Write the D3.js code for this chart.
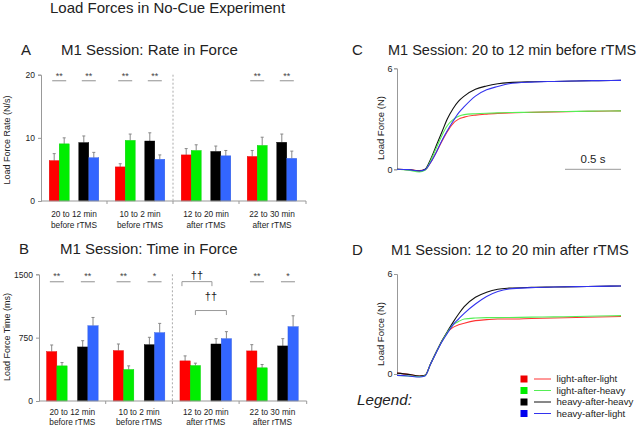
<!DOCTYPE html>
<html><head><meta charset="utf-8">
<script src="https://cdn.jsdelivr.net/npm/d3@7"></script>
<style>
body{margin:0;background:#fff}
svg{display:block;font-family:Arial,"Liberation Sans",sans-serif}
</style>
</head><body>
<svg id="chart" width="640" height="427"></svg>
<script>
// ---------- data ----------
const seriesNames = ["light-after-light","light-after-heavy","heavy-after-heavy","heavy-after-light"];
const barColors  = ["#ff0000","#00ee00","#000000","#3366ff"];
const lineColors = ["#ff3333","#55ee55","#111111","#3333ee"];
const legendColors = ["#ee0000","#00ee00","#000000","#0000ee"];

const groupLine1 = ["20 to 12 min","10 to 2 min","12 to 20 min","22 to 30 min"];
const groupLine2 = ["before rTMS","before rTMS","after rTMS","after rTMS"];

// Panel A: rate in force (N/s), mean and SE per group
const rateLL = [6.4, 5.4, 7.3, 7.05];
const rateLH = [9.05, 9.6, 8.0, 8.8];
const rateHH = [9.25, 9.5, 7.85, 9.3];
const rateHL = [6.85, 6.6, 7.15, 6.75];
const rateErrLL = [1.1, 0.5, 1.0, 0.95];
const rateErrLH = [0.95, 1.0, 0.9, 1.3];
const rateErrHH = [1.05, 1.3, 0.85, 1.3];
const rateErrHL = [0.85, 0.7, 0.85, 1.15];
const rateTicks = [0, 10, 20];
const sigRateLight = ["**","**","","**"];
const sigRateHeavy = ["**","**","","**"];

// Panel B: time in force (ms)
const timeLL = [585, 597, 475, 593];
const timeLH = [416, 373, 420, 393];
const timeHH = [640, 667, 675, 652];
const timeHL = [891, 809, 738, 880];
const timeErrLL = [78, 78, 59, 74];
const timeErrLH = [39, 43, 28, 39];
const timeErrHH = [74, 87, 63, 86];
const timeErrHL = [98, 110, 83, 129];
const timeTicks = [0, 750, 1500];
const sigTimeLight = ["**","**","","**"];
const sigTimeHeavy = ["**","*","","*"];

// Panels C/D: load force traces (N) vs time (s)
const traceTime = [0,0.1,0.2,0.25,0.3,0.35,0.4,0.45,0.5,0.55,0.6,0.7,0.8,0.9,1.0,1.2,1.4,1.6,1.8,2.0];
const cLL = [0,-0.02,-0.08,-0.03,0.4,1.0,1.65,2.25,2.72,2.98,3.1,3.22,3.28,3.32,3.35,3.38,3.41,3.43,3.45,3.47];
const cLH = [0,-0.05,-0.15,-0.06,0.5,1.25,2.0,2.6,2.95,3.15,3.25,3.3,3.33,3.35,3.37,3.39,3.42,3.44,3.46,3.47];
const cHH = [0,-0.02,-0.1,0.0,0.6,1.4,2.2,3.0,3.6,4.05,4.35,4.75,4.95,5.08,5.15,5.2,5.22,5.25,5.27,5.28];
const cHL = [0,-0.02,-0.1,-0.03,0.4,1.0,1.7,2.3,2.85,3.35,3.72,4.35,4.72,4.92,5.08,5.18,5.22,5.25,5.27,5.28];
const dLL = [0.05,-0.02,-0.12,-0.08,0.6,1.3,1.95,2.5,2.8,2.95,3.05,3.2,3.26,3.3,3.3,3.33,3.36,3.39,3.42,3.45];
const dLH = [-0.08,-0.12,-0.16,-0.1,0.6,1.3,1.95,2.5,2.95,3.15,3.3,3.36,3.38,3.38,3.39,3.41,3.43,3.45,3.48,3.5];
const dHH = [0.05,-0.02,-0.12,-0.08,0.62,1.32,1.98,2.55,3.1,3.6,4.04,4.6,4.9,5.08,5.15,5.2,5.22,5.24,5.26,5.28];
const dHL = [-0.08,-0.12,-0.18,-0.12,0.6,1.28,1.92,2.45,2.95,3.3,3.64,4.2,4.65,4.95,5.1,5.18,5.22,5.24,5.26,5.28];
const forceTicks = [0, 6];
const scaleBarSeconds = [1.5, 2.0];

// ---------- drawing ----------
const svg = d3.select("#chart");
const gray = "#999";
const txt = "#222";

svg.append("text").attr("x",50).attr("y",12.5).attr("font-size",15).attr("fill",txt)
  .text("Load Forces in No-Cue Experiment");

function panelTitle(letter, title, x0, x1, y, fs){
  svg.append("text").attr("x",x0).attr("y",y).attr("font-size",15).attr("fill",txt).text(letter);
  svg.append("text").attr("x",x1).attr("y",y).attr("font-size",fs||15).attr("fill",txt).text(title);
}
panelTitle("A","M1 Session: Rate in Force",21,61,55);
panelTitle("B","M1 Session: Time in Force",19,60,254);
panelTitle("C","M1 Session: 20 to 12 min before rTMS",352,388,55,14.5);
panelTitle("D","M1 Session: 12 to 20 min after rTMS",352,391,255,14.6);

function barPanel(cfg){
  const g = svg.append("g");
  const xg = d3.scaleBand().domain(d3.range(4)).range(cfg.xRange).paddingInner(0).paddingOuter(0);
  const step = xg.step();
  const margin = (step - 4*cfg.barW - cfg.gap)/2;
  const xs = d3.scaleBand().domain(d3.range(4)).range([0, 4*cfg.barW]);
  const xBar = (gi, si) => xg(gi) + margin + xs(si) + (si >= 2 ? cfg.gap : 0);
  const y = d3.scaleLinear().domain(cfg.yDomain).range(cfg.yRange);

  const vals = cfg.values, errs = cfg.errors;
  const rows = [];
  vals.forEach((arr, si) => arr.forEach((v, gi) => rows.push({si, gi, v, e: errs[si][gi]})));

  g.selectAll("line.err").data(rows).join("line")
    .attr("x1", d => xBar(d.gi,d.si) + cfg.barW/2).attr("x2", d => xBar(d.gi,d.si) + cfg.barW/2)
    .attr("y1", d => y(d.v)).attr("y2", d => y(d.v + d.e))
    .attr("stroke","#888").attr("stroke-width",1);
  g.selectAll("line.cap").data(rows).join("line")
    .attr("x1", d => xBar(d.gi,d.si) + cfg.barW/2 - 1.5).attr("x2", d => xBar(d.gi,d.si) + cfg.barW/2 + 1.5)
    .attr("y1", d => y(d.v + d.e)).attr("y2", d => y(d.v + d.e))
    .attr("stroke","#888").attr("stroke-width",1);
  g.selectAll("rect").data(rows).join("rect")
    .attr("x", d => xBar(d.gi,d.si)).attr("width", cfg.barW)
    .attr("y", d => y(d.v)).attr("height", d => y(0) - y(d.v))
    .attr("fill", d => barColors[d.si])
    .attr("stroke", d => d3.color(barColors[d.si]).darker(0.4)).attr("stroke-width",0.4);

  const ya = g.append("g").attr("transform",`translate(${cfg.xRange[0]},0)`)
    .call(d3.axisLeft(y).tickValues(cfg.ticks).tickSize(3).tickPadding(3).tickFormat(d3.format("d")));
  ya.select(".domain").attr("stroke",gray);
  ya.selectAll(".tick line").attr("stroke",gray);
  ya.selectAll(".tick text").attr("font-size",8.5).attr("fill",txt).attr("font-family","Arial, Liberation Sans, sans-serif");

  g.append("line").attr("x1",cfg.xRange[0]).attr("x2",cfg.xEnd).attr("y1",y(0)).attr("y2",y(0))
    .attr("stroke",gray);
  [1,2,3].forEach(i => {
    g.append("line").attr("x1",xg(i)).attr("x2",xg(i)).attr("y1",y(0)).attr("y2",y(0)+3).attr("stroke",gray);
  });
  g.append("line").attr("x1",cfg.xEnd).attr("x2",cfg.xEnd).attr("y1",y(0)).attr("y2",y(0)+3).attr("stroke",gray);
  g.append("line").attr("x1",xg(2)).attr("x2",xg(2)).attr("y1",y(cfg.yDomain[1])).attr("y2",y(0))
    .attr("stroke","#aaa").attr("stroke-dasharray","2,2");

  d3.range(4).forEach(i => {
    const cx = xg(i) + step/2;
    g.append("text").attr("x",cx).attr("y",cfg.labY).attr("text-anchor","middle")
      .attr("font-size",8.3).attr("fill",txt).text(groupLine1[i]);
    g.append("text").attr("x",cx).attr("y",cfg.labY+cfg.labGap).attr("text-anchor","middle")
      .attr("font-size",8.3).attr("fill",txt).text(groupLine2[i]);
  });

  g.append("text").attr("transform",`translate(${cfg.yLabX},${cfg.yLabY}) rotate(-90)`)
    .attr("text-anchor","middle").attr("font-size",9).attr("fill",txt).text(cfg.yLabel);

  [cfg.sigLight, cfg.sigHeavy].forEach((sig, p) => {
    sig.forEach((s, gi) => {
      if (!s) return;
      const cx = p === 0 ? xBar(gi,0) + cfg.barW : xBar(gi,2) + cfg.barW;
      g.append("line").attr("x1",cx-7).attr("x2",cx+7).attr("y1",cfg.sigLineY).attr("y2",cfg.sigLineY)
        .attr("stroke","#aaa").attr("stroke-width",1.3);
      g.append("text").attr("x",cx).attr("y",cfg.sigTextY).attr("text-anchor","middle")
        .attr("font-size",9).attr("fill","#444").text(s);
    });
  });
  return {xBar, y, g};
}

barPanel({
  xRange:[41,305], xEnd:306, barW:10, gap:9.6,
  yDomain:[0,20], yRange:[201,74.7], ticks: rateTicks,
  values:[rateLL,rateLH,rateHH,rateHL], errors:[rateErrLL,rateErrLH,rateErrHH,rateErrHL],
  labY:216.5, labGap:11, yLabel:"Load Force Rate (N/s)", yLabX:10, yLabY:140,
  sigLight:sigRateLight, sigHeavy:sigRateHeavy, sigLineY:80.7, sigTextY:78.5
});

const pB = barPanel({
  xRange:[39,305.8], xEnd:306.7, barW:10.3, gap:10.4,
  yDomain:[0,1500], yRange:[401,274.3], ticks: timeTicks,
  values:[timeLL,timeLH,timeHH,timeHL], errors:[timeErrLL,timeErrLH,timeErrHH,timeErrHL],
  labY:415, labGap:10, yLabel:"Load Force Time (ms)", yLabX:10, yLabY:337,
  sigLight:sigTimeLight, sigHeavy:sigTimeHeavy, sigLineY:281.7, sigTextY:278.5
});

function bracket(xa, xb, yv, label, ty){
  const yy = pB.y(yv);
  pB.g.append("path").attr("d",`M${xa},${yy+4.5}V${yy}H${xb}V${yy+4.5}`)
    .attr("fill","none").attr("stroke","#999").attr("stroke-width",1);
  pB.g.append("text").attr("x",(xa+xb)/2).attr("y",ty).attr("text-anchor","middle")
    .attr("font-size",11).attr("fill","#222").text(label);
}
bracket(pB.xBar(2,0)+2, pB.xBar(2,2)+1, 1413, "\u2020\u2020", 278.5);
bracket(pB.xBar(2,1)+5.15, pB.xBar(2,3)+5.15, 1071, "\u2020\u2020", 299.5);

// ---------- trace panels ----------
function tracePanel(cfg){
  const g = svg.append("g");
  const x = d3.scaleLinear().domain([0,2]).range([397,621]);
  const y = d3.scaleLinear().domain([0,6]).range(cfg.yRange);
  const ya = g.append("g").attr("transform","translate(397,0)")
    .call(d3.axisLeft(y).tickValues(forceTicks).tickSize(3).tickPadding(1.5).tickFormat(d3.format("d")));
  ya.select(".domain").attr("stroke",gray);
  ya.selectAll(".tick line").attr("stroke",gray);
  ya.selectAll(".tick text").attr("font-size",9).attr("fill",txt).attr("font-family","Arial, Liberation Sans, sans-serif");
  g.append("text").attr("transform",`translate(${cfg.yLabX},${cfg.yLabY}) rotate(-90)`)
    .attr("text-anchor","middle").attr("font-size",9.5).attr("fill",txt).text("Load Force (N)");
  const line = d3.line().x((d,i) => x(traceTime[i])).y(d => y(d)).curve(d3.curveMonotoneX);
  // draw order: red, black, green, blue
  [0,2,1,3].forEach(si => {
    g.append("path").attr("d", line(cfg.traces[si])).attr("fill","none")
      .attr("stroke", lineColors[si]).attr("stroke-width",1.1);
  });
  return {x, y, g};
}

const pC = tracePanel({yRange:[169.3,68.3], yLabX:384, yLabY:128, traces:[cLL,cLH,cHH,cHL]});
// 0.5 s scale bar
pC.g.append("line").attr("x1",pC.x(scaleBarSeconds[0])).attr("x2",pC.x(scaleBarSeconds[1]))
  .attr("y1",pC.y(0)).attr("y2",pC.y(0)).attr("stroke",gray).attr("stroke-width",1);
pC.g.append("text").attr("x",(pC.x(scaleBarSeconds[0])+pC.x(scaleBarSeconds[1]))/2).attr("y",162.5)
  .attr("text-anchor","middle").attr("font-size",11.5).attr("fill",txt).text("0.5 s");

const pD = tracePanel({yRange:[374,274], yLabX:384, yLabY:334, traces:[dLL,dLH,dHH,dHL]});

// ---------- legend ----------
const leg = svg.append("g");
const legY = d3.scalePoint().domain(seriesNames).range([379,413.5]);
seriesNames.forEach((s, i) => {
  const yy = legY(s);
  leg.append("rect").attr("x",520.5).attr("y",yy-3.5).attr("width",7).attr("height",7).attr("fill",legendColors[i]);
  leg.append("line").attr("x1",534).attr("x2",551).attr("y1",yy).attr("y2",yy)
    .attr("stroke",lineColors[i]).attr("stroke-width",1);
  leg.append("text").attr("x",556.5).attr("y",yy+3.3).attr("font-size",9.6).attr("fill",txt).text(s);
});
svg.append("text").attr("x",357).attr("y",405).attr("font-size",15.2).attr("font-style","italic")
  .attr("fill",txt).text("Legend:");
</script>
</body></html>
